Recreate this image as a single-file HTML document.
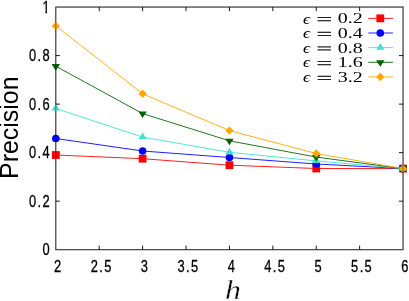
<!DOCTYPE html>
<html><head><meta charset="utf-8"><title>Precision vs h</title>
<style>
html,body{margin:0;padding:0;background:#fff;}
body{width:409px;height:301px;overflow:hidden;font-family:"Liberation Sans",sans-serif;}
svg{display:block;will-change:transform;opacity:0.999}
.tk{font-family:"Liberation Sans",sans-serif;font-size:16.5px;fill:#000;stroke:#000;stroke-width:0.3px}
.lg{font-family:"Liberation Serif",serif;font-size:15.6px;fill:#000}
</style></head><body>
<svg width="409" height="301" viewBox="0 0 409 301">
<rect width="409" height="301" fill="#fff"/>
<g stroke="#000" stroke-opacity="0.68" stroke-width="1" fill="none">
<rect x="55.8" y="7.05" width="347.25" height="242.65"/>
</g>
<g stroke="#000" stroke-opacity="0.9" stroke-width="1" fill="none">
<path d="M99.21 249.7 v-4.1 M99.21 7.05 v4.1"/>
<path d="M142.61 249.7 v-4.1 M142.61 7.05 v4.1"/>
<path d="M186.02 249.7 v-4.1 M186.02 7.05 v4.1"/>
<path d="M229.43 249.7 v-4.1 M229.43 7.05 v4.1"/>
<path d="M272.83 249.7 v-4.1 M272.83 7.05 v4.1"/>
<path d="M316.24 249.7 v-4.1 M316.24 7.05 v4.1"/>
<path d="M359.64 249.7 v-4.1 M359.64 7.05 v4.1"/>
<path d="M55.8 201.17 h4.1 M403.05 201.17 h-4.1"/>
<path d="M55.8 152.64 h4.1 M403.05 152.64 h-4.1"/>
<path d="M55.8 104.11 h4.1 M403.05 104.11 h-4.1"/>
<path d="M55.8 55.58 h4.1 M403.05 55.58 h-4.1"/>
</g>
<polyline points="55.80,155.00 142.61,158.70 229.43,165.20 316.24,168.50 403.05,168.60" fill="none" stroke="#ff0000" stroke-width="0.88"/>
<rect x="51.90" y="151.10" width="7.80" height="7.80" fill="#ff0000"/>
<rect x="138.71" y="154.80" width="7.80" height="7.80" fill="#ff0000"/>
<rect x="225.53" y="161.30" width="7.80" height="7.80" fill="#ff0000"/>
<rect x="312.34" y="164.60" width="7.80" height="7.80" fill="#ff0000"/>
<rect x="399.15" y="164.70" width="7.80" height="7.80" fill="#ff0000"/>
<polyline points="55.80,138.50 142.61,151.00 229.43,157.50 316.24,164.00 403.05,168.60" fill="none" stroke="#0000ff" stroke-width="0.88"/>
<circle cx="55.80" cy="138.50" r="3.8" fill="#0000ff"/>
<circle cx="142.61" cy="151.00" r="3.8" fill="#0000ff"/>
<circle cx="229.43" cy="157.50" r="3.8" fill="#0000ff"/>
<circle cx="316.24" cy="164.00" r="3.8" fill="#0000ff"/>
<circle cx="403.05" cy="168.60" r="3.8" fill="#0000ff"/>
<polyline points="55.80,108.50 142.61,137.10 229.43,152.30 316.24,160.90 403.05,168.60" fill="none" stroke="#40e0d0" stroke-width="0.88"/>
<polygon points="55.80,104.00 51.60,110.60 60.00,110.60" fill="#40e0d0"/>
<polygon points="142.61,132.60 138.41,139.20 146.81,139.20" fill="#40e0d0"/>
<polygon points="229.43,147.80 225.23,154.40 233.62,154.40" fill="#40e0d0"/>
<polygon points="316.24,156.40 312.04,163.00 320.44,163.00" fill="#40e0d0"/>
<polygon points="403.05,164.10 398.85,170.70 407.25,170.70" fill="#40e0d0"/>
<polyline points="55.80,66.20 142.61,113.60 229.43,140.80 316.24,157.10 403.05,168.60" fill="none" stroke="#006400" stroke-width="0.88"/>
<polygon points="55.80,70.70 51.60,64.10 60.00,64.10" fill="#006400"/>
<polygon points="142.61,118.10 138.41,111.50 146.81,111.50" fill="#006400"/>
<polygon points="229.43,145.30 225.23,138.70 233.62,138.70" fill="#006400"/>
<polygon points="316.24,161.60 312.04,155.00 320.44,155.00" fill="#006400"/>
<polygon points="403.05,173.10 398.85,166.50 407.25,166.50" fill="#006400"/>
<polyline points="55.80,25.90 142.61,93.80 229.43,130.60 316.24,153.50 403.05,168.60" fill="none" stroke="#ffa500" stroke-width="0.88"/>
<polygon points="55.80,21.70 59.90,25.90 55.80,30.10 51.70,25.90" fill="#ffa500"/>
<polygon points="142.61,89.60 146.71,93.80 142.61,98.00 138.51,93.80" fill="#ffa500"/>
<polygon points="229.43,126.40 233.53,130.60 229.43,134.80 225.33,130.60" fill="#ffa500"/>
<polygon points="316.24,149.30 320.34,153.50 316.24,157.70 312.14,153.50" fill="#ffa500"/>
<polygon points="403.05,164.40 407.15,168.60 403.05,172.80 398.95,168.60" fill="#ffa500"/>
<line x1="368.3" y1="18.35" x2="393.0" y2="18.35" stroke="#ff0000" stroke-width="0.88"/>
<rect x="376.40" y="14.45" width="7.80" height="7.80" fill="#ff0000"/>
<text class="lg" font-style="italic" font-size="17.3" x="303.1" y="23.50" textLength="7.1" lengthAdjust="spacingAndGlyphs">ϵ</text>
<text class="lg" font-size="17.6" stroke="#000" stroke-width="0.25" transform="rotate(0.03 316 23.35)" x="316.4" y="24.30" textLength="15.6" lengthAdjust="spacingAndGlyphs">=</text>
<text class="lg" font-size="17.3" x="337.8" y="23.35" textLength="25.0" lengthAdjust="spacingAndGlyphs">0.2</text>
<line x1="368.3" y1="33.0" x2="393.0" y2="33.0" stroke="#0000ff" stroke-width="0.88"/>
<circle cx="380.30" cy="33.00" r="3.8" fill="#0000ff"/>
<text class="lg" font-style="italic" font-size="17.3" x="303.1" y="38.15" textLength="7.1" lengthAdjust="spacingAndGlyphs">ϵ</text>
<text class="lg" font-size="17.6" stroke="#000" stroke-width="0.25" transform="rotate(0.03 316 38.00)" x="316.4" y="38.95" textLength="15.6" lengthAdjust="spacingAndGlyphs">=</text>
<text class="lg" font-size="17.3" x="337.8" y="38.00" textLength="25.0" lengthAdjust="spacingAndGlyphs">0.4</text>
<line x1="368.3" y1="47.65" x2="393.0" y2="47.65" stroke="#40e0d0" stroke-width="0.88"/>
<polygon points="380.30,43.15 376.10,49.75 384.50,49.75" fill="#40e0d0"/>
<text class="lg" font-style="italic" font-size="17.3" x="303.1" y="52.80" textLength="7.1" lengthAdjust="spacingAndGlyphs">ϵ</text>
<text class="lg" font-size="17.6" stroke="#000" stroke-width="0.25" transform="rotate(0.03 316 52.65)" x="316.4" y="53.60" textLength="15.6" lengthAdjust="spacingAndGlyphs">=</text>
<text class="lg" font-size="17.3" x="337.8" y="52.65" textLength="25.0" lengthAdjust="spacingAndGlyphs">0.8</text>
<line x1="368.3" y1="62.3" x2="393.0" y2="62.3" stroke="#006400" stroke-width="0.88"/>
<polygon points="380.30,66.80 376.10,60.20 384.50,60.20" fill="#006400"/>
<text class="lg" font-style="italic" font-size="17.3" x="303.1" y="67.45" textLength="7.1" lengthAdjust="spacingAndGlyphs">ϵ</text>
<text class="lg" font-size="17.6" stroke="#000" stroke-width="0.25" transform="rotate(0.03 316 67.30)" x="316.4" y="68.25" textLength="15.6" lengthAdjust="spacingAndGlyphs">=</text>
<text class="lg" font-size="17.3" x="337.8" y="67.30" textLength="25.0" lengthAdjust="spacingAndGlyphs">1.6</text>
<line x1="368.3" y1="76.95" x2="393.0" y2="76.95" stroke="#ffa500" stroke-width="0.88"/>
<polygon points="380.30,72.75 384.40,76.95 380.30,81.15 376.20,76.95" fill="#ffa500"/>
<text class="lg" font-style="italic" font-size="17.3" x="303.1" y="82.10" textLength="7.1" lengthAdjust="spacingAndGlyphs">ϵ</text>
<text class="lg" font-size="17.6" stroke="#000" stroke-width="0.25" transform="rotate(0.03 316 81.95)" x="316.4" y="82.90" textLength="15.6" lengthAdjust="spacingAndGlyphs">=</text>
<text class="lg" font-size="17.3" x="337.8" y="81.95" textLength="25.0" lengthAdjust="spacingAndGlyphs">3.2</text>
<rect x="55.8" y="7.05" width="347.25" height="242.65" fill="none" stroke="#000" stroke-opacity="0.4" stroke-width="1"/>
<text class="tk" text-anchor="middle" transform="scale(0.78,1)" x="59.13" y="255.50">0</text>
<text class="tk" text-anchor="middle" transform="scale(0.78,1)" x="41.83 50.48 59.13" y="206.97">0.2</text>
<text class="tk" text-anchor="middle" transform="scale(0.78,1)" x="41.83 50.48 59.13" y="158.44">0.4</text>
<text class="tk" text-anchor="middle" transform="scale(0.78,1)" x="41.83 50.48 59.13" y="109.91">0.6</text>
<text class="tk" text-anchor="middle" transform="scale(0.78,1)" x="41.83 50.48 59.13" y="61.38">0.8</text>
<text class="tk" text-anchor="middle" transform="scale(0.78,1)" x="59.13" y="12.85">1</text>
<rect x="41.5" y="10.4" width="3.85" height="3.6" fill="#fff"/><rect x="47.05" y="10.4" width="3.6" height="3.6" fill="#fff"/>
<text class="tk" text-anchor="middle" transform="scale(0.78,1)" x="73.85" y="272.00">2</text>
<text class="tk" text-anchor="middle" transform="scale(0.78,1)" x="120.84 129.50 138.15" y="272.00">2.5</text>
<text class="tk" text-anchor="middle" transform="scale(0.78,1)" x="185.14" y="272.00">3</text>
<text class="tk" text-anchor="middle" transform="scale(0.78,1)" x="232.14 240.79 249.45" y="272.00">3.5</text>
<text class="tk" text-anchor="middle" transform="scale(0.78,1)" x="296.44" y="272.00">4</text>
<text class="tk" text-anchor="middle" transform="scale(0.78,1)" x="343.44 352.09 360.75" y="272.00">4.5</text>
<text class="tk" text-anchor="middle" transform="scale(0.78,1)" x="407.74" y="272.00">5</text>
<text class="tk" text-anchor="middle" transform="scale(0.78,1)" x="454.74 463.39 472.04" y="272.00">5.5</text>
<text class="tk" text-anchor="middle" transform="scale(0.78,1)" x="519.04" y="272.00">6</text>
<text transform="translate(18.4,179) rotate(-90)" font-family="Liberation Sans, sans-serif" font-size="25.2" textLength="102.6" lengthAdjust="spacingAndGlyphs" fill="#000">Precision</text>
<text x="225.0" y="299.0" font-family="Liberation Serif, serif" font-style="italic" font-size="26.6" textLength="15.9" lengthAdjust="spacingAndGlyphs" fill="#000" stroke="#fff" stroke-width="0.3">h</text>
</svg></body></html>
